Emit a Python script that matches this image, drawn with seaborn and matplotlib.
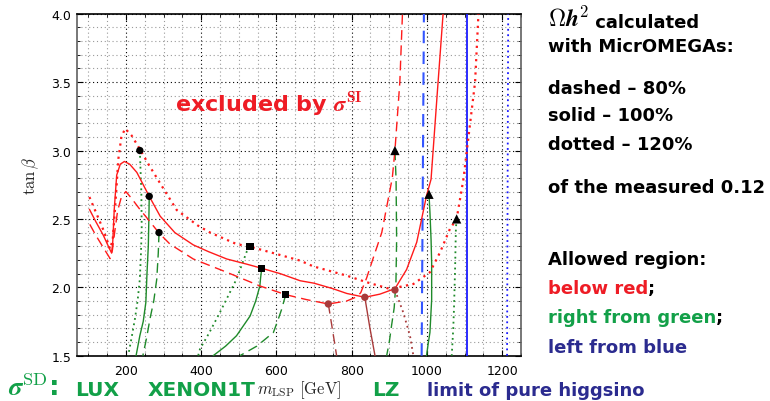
import numpy as np
import pandas as pd
import matplotlib
matplotlib.use("Agg")
import matplotlib.pyplot as plt
import seaborn as sns
from matplotlib.ticker import MultipleLocator

sns.set_theme(style="white")
plt.rcParams["font.family"] = ["DejaVu Sans"]
plt.rcParams["mathtext.fontset"] = "cm"

# ---------------- data (m_LSP [GeV], tan beta) ----------------
# relic-density contours (red): 80% dashed, 100% solid, 120% dotted
red100_x = [103, 120, 140, 155, 162, 165, 169, 175.5, 185, 196, 210, 229, 262, 291, 330, 379, 420, 468, 520, 561,
            610, 663, 700, 750, 787, 835, 875, 915, 946, 973, 999, 1011, 1027, 1043]
red100_y = [2.57, 2.48, 2.38, 2.29, 2.25, 2.33, 2.57, 2.82, 2.90, 2.92, 2.90, 2.84, 2.665, 2.52, 2.40, 2.31, 2.26,
            2.207, 2.17, 2.139, 2.10, 2.048, 2.03, 1.99, 1.955, 1.927, 1.95, 1.99, 2.13, 2.33, 2.67, 2.79, 3.40, 4.0]

red120_x = [103, 120, 140, 158, 165, 171, 180, 188, 198, 215, 237, 262, 291, 335, 392, 424, 494, 530, 601, 663,
            698, 787, 840, 902, 964, 1008, 1035, 1061, 1079, 1097, 1114, 1128, 1137]
red120_y = [2.66, 2.55, 2.42, 2.28, 2.35, 2.57, 2.94, 3.10, 3.16, 3.11, 3.01, 2.89, 2.76, 2.565, 2.45, 2.40, 2.316,
            2.297, 2.243, 2.195, 2.153, 2.085, 2.037, 1.988, 2.024, 2.11, 2.256, 2.426, 2.50, 2.79, 3.18, 3.5, 4.0]

red80_x = [104, 120, 140, 158, 164, 170, 178, 188, 200, 215, 237, 255, 288, 317, 379, 468, 556, 625, 680, 738,
           787, 813, 824, 840, 858, 880, 908, 915, 928, 935]
red80_y = [2.46, 2.38, 2.29, 2.21, 2.27, 2.40, 2.56, 2.66, 2.70, 2.65, 2.57, 2.51, 2.397, 2.316, 2.207, 2.11, 2.01,
           1.946, 1.91, 1.878, 1.90, 1.93, 1.96, 2.07, 2.22, 2.40, 2.80, 3.0, 3.5, 4.0]

# sigma_SD limits (green): LUX, XENON1T, LZ for 80/100/120 %
lux80_x = [288, 286, 282, 274, 264, 255, 245]
lux80_y = [2.40, 2.25, 2.06, 1.90, 1.77, 1.63, 1.5]
lux100_x = [262, 261, 259.5, 256, 253, 246, 237, 227]
lux100_y = [2.665, 2.5, 2.30, 2.10, 1.89, 1.75, 1.646, 1.5]
lux120_x = [237, 241, 242, 240, 237, 231, 224, 215, 206]
lux120_y = [3.0, 2.7, 2.43, 2.25, 2.06, 1.9, 1.77, 1.63, 1.5]

xe80_x = [625, 620, 614, 604, 592, 570, 548, 503]
xe80_y = [1.946, 1.90, 1.84, 1.76, 1.67, 1.62, 1.57, 1.5]
xe100_x = [561, 558, 556, 545, 530, 494, 465, 432]
xe100_y = [2.139, 2.07, 2.01, 1.90, 1.79, 1.646, 1.57, 1.5]
xe120_x = [530, 526, 521, 494, 450, 420, 397, 392]
xe120_y = [2.297, 2.28, 2.26, 2.06, 1.817, 1.66, 1.55, 1.5]

lz80_x = [915, 918, 919.5, 917.7, 913, 906, 900, 893]
lz80_y = [3.0, 2.79, 2.35, 2.04, 1.85, 1.72, 1.6, 1.5]
lz100_x = [1005.5, 1008, 1011, 1012.6, 1012.6, 1008, 1003, 999]
lz100_y = [2.68, 2.55, 2.35, 2.18, 1.91, 1.67, 1.58, 1.5]
lz120_x = [1079, 1077, 1075, 1072, 1070, 1066]
lz120_y = [2.5, 2.43, 2.15, 1.85, 1.70, 1.5]

# brown branches
br80_x = [738, 749, 760]
br80_y = [1.878, 1.69, 1.5]
br100_x = [835, 848, 862]
br100_y = [1.927, 1.71, 1.5]
br120_x = [915, 937, 955, 964]
br120_y = [1.98, 1.817, 1.646, 1.5]

# pure higgsino limit (blue)
bl80_x = [986, 989, 992]
bl80_y = [1.5, 2.75, 4.0]
bl100_x = [1107, 1107]
bl100_y = [1.5, 4.0]
bl120_x = [1213, 1216]
bl120_y = [1.5, 4.0]

# ---------------- styling ----------------
RED = "#ff1a1a"
GREEN = "#1f8a2a"
BLUE = "#1a1aff"
BLUE_D = "#3355ff"
BROWN = "#a83a3a"
TXT_RED = "#ee1c25"
TXT_GREEN = "#12a048"
TXT_BLUE = "#2b2b8f"

DASH = (0, (7, 4))
DOT = (0, (1, 2))

fig = plt.figure(figsize=(7.7, 4.02), dpi=100)
ax = fig.add_axes([0.1, 0.1127, 0.5766, 0.8507])


def line(x, y, color, ls, lw=1.0, z=3):
    sns.lineplot(x=x, y=y, sort=False, estimator=None, color=color, linestyle=ls,
                 linewidth=lw, ax=ax, zorder=z)


# green
line(lux80_x, lux80_y, GREEN, DASH)
line(lux100_x, lux100_y, GREEN, "-")
line(lux120_x, lux120_y, GREEN, DOT, 1.3)
line(xe80_x, xe80_y, GREEN, DASH)
line(xe100_x, xe100_y, GREEN, "-")
line(xe120_x, xe120_y, GREEN, DOT, 1.3)
line(lz80_x, lz80_y, GREEN, DASH)
line(lz100_x, lz100_y, GREEN, "-")
line(lz120_x, lz120_y, GREEN, DOT, 1.3)
# brown
line(br80_x, br80_y, BROWN, DASH)
line(br100_x, br100_y, BROWN, "-")
line(br120_x, br120_y, BROWN, DOT, 1.3)
# blue
line(bl80_x, bl80_y, BLUE_D, (0, (6, 4)), 1.5)
line(bl100_x, bl100_y, BLUE, "-", 1.3)
line(bl120_x, bl120_y, BLUE, DOT, 1.3)
# red
line(red80_x, red80_y, RED, DASH, 1.0, 4)
line(red100_x, red100_y, RED, "-", 1.0, 4)
line(red120_x, red120_y, RED, DOT, 1.6, 4)

# markers
sns.scatterplot(x=[lux120_x[0], lux100_x[0], lux80_x[0]], y=[lux120_y[0], lux100_y[0], lux80_y[0]],
                marker="o", color="black", s=28, edgecolor="none", ax=ax, zorder=6)
sns.scatterplot(x=[xe120_x[0], xe100_x[0], xe80_x[0]], y=[xe120_y[0], xe100_y[0], xe80_y[0]],
                marker="s", color="black", s=28, edgecolor="none", ax=ax, zorder=6)
sns.scatterplot(x=[lz80_x[0], lz100_x[0], lz120_x[0]], y=[lz80_y[0], lz100_y[0], lz120_y[0]],
                marker="^", color="black", s=45, edgecolor="none", ax=ax, zorder=6)
sns.scatterplot(x=[br80_x[0], br100_x[0], br120_x[0]], y=[br80_y[0], br100_y[0], br120_y[0]],
                marker="o", color=BROWN, s=28, edgecolor="none", ax=ax, zorder=6)

# axes
ax.set_xlim(70, 1250)
ax.set_ylim(1.5, 4.0)
ax.xaxis.set_major_locator(MultipleLocator(200))
ax.xaxis.set_minor_locator(MultipleLocator(50))
ax.yaxis.set_major_locator(MultipleLocator(0.5))
ax.yaxis.set_minor_locator(MultipleLocator(0.1))
ax.grid(which="major", color="black", linestyle=(0, (1, 2.5)), linewidth=0.8)
ax.grid(which="minor", color="#9a9a9a", linestyle=(0, (1, 2.5)), linewidth=0.8)
ax.set_axisbelow(True)
ax.tick_params(which="both", direction="in", top=True, right=True, bottom=True, left=True,
               colors="black", labelsize=9)
ax.tick_params(which="major", length=4, width=0.8)
ax.tick_params(which="minor", length=2, width=0.6)
ax.tick_params(axis="x", pad=6)
ax.tick_params(axis="y", pad=4)
ax.set_xticks([200, 400, 600, 800, 1000, 1200])
ax.set_yticks([1.5, 2.0, 2.5, 3.0, 3.5, 4.0])
ax.set_yticklabels(["1.5", "2.0", "2.5", "3.0", "3.5", "4.0"])
for s in ["top", "bottom"]:
    ax.spines[s].set_color("black")
    ax.spines[s].set_linewidth(1.2)
for s in ["left", "right"]:
    ax.spines[s].set_color("#606060")
    ax.spines[s].set_linewidth(1.2)

ax.set_xlabel(r"$m_{\rm LSP}\ [\rm GeV]$", fontsize=12)
ax.set_ylabel(r"$\tan\beta$", fontsize=12)
ax.xaxis.set_label_coords(0.5, -0.066)
ax.yaxis.set_label_coords(-0.08, 0.53)

# in-plot label
ax.text(330, 3.34, r"excluded by $\boldsymbol{\sigma}^{\mathbf{SI}}$", color=TXT_RED,
        fontsize=16, fontweight="bold", va="center", ha="left")

# right-hand notes
FX = 548 / 770
RS = 13


def ftxt(ypx, s, color="black", size=RS, x=FX):
    return fig.text(x, 1 - ypx / 402, s, color=color, fontsize=size, fontweight="bold",
                    va="center", ha="left")


tm = fig.text(FX, 1 - 27 / 402, r"$\boldsymbol{\Omega h}^{\mathbf{2}}$", fontsize=17,
              color="black", va="baseline", ha="left")
ax.annotate(" calculated", xy=(1, 0), xycoords=tm, va="bottom", ha="left", fontsize=RS,
            fontweight="bold", color="black", annotation_clip=False)
ftxt(47, "with MicrOMEGAs:")
ftxt(89, "dashed – 80%")
ftxt(116, "solid – 100%")
ftxt(145, "dotted – 120%")
ftxt(188, "of the measured 0.12")
ftxt(260, "Allowed region:")
t1 = ftxt(289, "below red", TXT_RED)
ax.annotate(";", xy=(1, 0), xycoords=t1, va="bottom", ha="left", fontsize=RS,
            fontweight="bold", color="black", annotation_clip=False)
t2 = ftxt(318, "right from green", TXT_GREEN)
ax.annotate(";", xy=(1, 0), xycoords=t2, va="bottom", ha="left", fontsize=RS,
            fontweight="bold", color="black", annotation_clip=False)
ftxt(348, "left from blue", TXT_BLUE)

# bottom row
BY = 1 - 396 / 402


def btxt(xpx, s, color, size=14.5):
    fig.text(xpx / 770, BY, s, color=color, fontsize=size, fontweight="bold",
             va="baseline", ha="left")


btxt(8, r"$\boldsymbol{\sigma}^{\rm SD}$:", TXT_GREEN, 19)
btxt(75, "LUX", TXT_GREEN)
btxt(148, "XENON1T", TXT_GREEN)
btxt(372, "LZ", TXT_GREEN)
btxt(427, "limit of pure higgsino", TXT_BLUE, 13)

fig.savefig("out.png", dpi=100)
